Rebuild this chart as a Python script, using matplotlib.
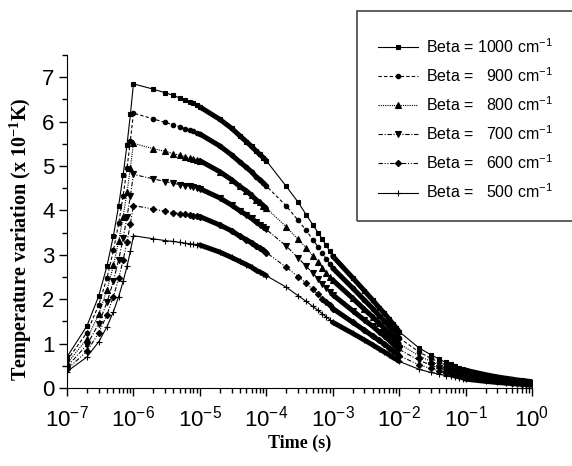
import numpy as np
import matplotlib
matplotlib.use("Agg")
import matplotlib.pyplot as plt
from matplotlib.patches import Rectangle
from matplotlib.ticker import MultipleLocator, LogLocator, NullFormatter

plt.rcParams["font.family"] = ["Liberation Sans", "DejaVu Sans"]
plt.rcParams["mathtext.fontset"] = "custom"
plt.rcParams["mathtext.rm"] = "Liberation Sans"

# time grid: 1..9 x 10^d for each decade, then 1 s
mantissas = [1, 2, 3, 4, 5, 6, 7, 8, 9]
decades = [-7, -6, -5, -4, -3, -2, -1]
time_s = [m * 10.0 ** d for d in decades for m in mantissas] + [1.0]
x_ticks = [1e-7, 1e-6, 1e-5, 1e-4, 1e-3, 1e-2, 1e-1, 1e0]

labels = ["Beta = 1000 cm$^{\\mathregular{-1}}$",
          "Beta =   900 cm$^{\\mathregular{-1}}$",
          "Beta =   800 cm$^{\\mathregular{-1}}$",
          "Beta =   700 cm$^{\\mathregular{-1}}$",
          "Beta =   600 cm$^{\\mathregular{-1}}$",
          "Beta =   500 cm$^{\\mathregular{-1}}$"]

# temperature variation (x 10^-1 K)
beta_1000 = [0.70, 1.40, 2.07, 2.75, 3.43, 4.11, 4.80, 5.48, 6.16,
             6.85, 6.73, 6.65, 6.59, 6.53, 6.49, 6.45, 6.41, 6.37,
             6.33, 6.05, 5.85, 5.68, 5.55, 5.44, 5.34, 5.26, 5.19,
             5.12, 4.54, 4.19, 3.90, 3.68, 3.50, 3.35, 3.21, 3.08,
             2.97, 2.48, 2.19, 1.98, 1.81, 1.68, 1.56, 1.45, 1.36,
             1.27, 0.90, 0.75, 0.65, 0.58, 0.53, 0.49, 0.46, 0.43,
             0.40, 0.30, 0.25, 0.22, 0.20, 0.18, 0.17, 0.16, 0.15,
             0.14]
beta_900 = [0.62, 1.25, 1.87, 2.48, 3.10, 3.71, 4.33, 4.95, 5.57,
            6.19, 6.06, 5.98, 5.93, 5.88, 5.84, 5.81, 5.78, 5.75,
            5.72, 5.45, 5.25, 5.09, 4.97, 4.87, 4.76, 4.69, 4.62,
            4.55, 4.10, 3.78, 3.55, 3.34, 3.18, 3.03, 2.91, 2.80,
            2.70, 2.25, 1.98, 1.79, 1.63, 1.51, 1.40, 1.30, 1.21,
            1.13, 0.81, 0.67, 0.58, 0.52, 0.48, 0.44, 0.41, 0.38,
            0.36, 0.27, 0.23, 0.20, 0.18, 0.165, 0.155, 0.145, 0.135,
            0.13]
beta_800 = [0.55, 1.11, 1.66, 2.21, 2.76, 3.31, 3.86, 4.41, 4.96,
            5.51, 5.39, 5.33, 5.28, 5.24, 5.21, 5.18, 5.16, 5.14,
            5.12, 4.87, 4.69, 4.54, 4.44, 4.34, 4.24, 4.18, 4.11,
            4.05, 3.63, 3.35, 3.15, 2.98, 2.84, 2.71, 2.60, 2.51,
            2.43, 2.02, 1.77, 1.60, 1.46, 1.34, 1.24, 1.15, 1.08,
            1.00, 0.72, 0.60, 0.52, 0.46, 0.42, 0.39, 0.36, 0.34,
            0.32, 0.24, 0.20, 0.18, 0.16, 0.15, 0.14, 0.13, 0.12,
            0.115]
beta_700 = [0.48, 0.97, 1.45, 1.93, 2.41, 2.89, 3.37, 3.85, 4.33,
            4.81, 4.71, 4.65, 4.61, 4.58, 4.56, 4.54, 4.52, 4.50,
            4.49, 4.28, 4.12, 3.99, 3.90, 3.82, 3.74, 3.68, 3.63,
            3.57, 3.20, 2.93, 2.74, 2.59, 2.46, 2.35, 2.25, 2.17,
            2.10, 1.74, 1.53, 1.39, 1.26, 1.17, 1.08, 1.00, 0.93,
            0.87, 0.62, 0.52, 0.45, 0.40, 0.37, 0.34, 0.32, 0.30,
            0.28, 0.21, 0.18, 0.155, 0.14, 0.13, 0.12, 0.11, 0.105,
            0.10]
beta_600 = [0.42, 0.83, 1.24, 1.65, 2.06, 2.47, 2.88, 3.29, 3.70,
            4.11, 4.03, 3.98, 3.95, 3.93, 3.91, 3.89, 3.88, 3.87,
            3.86, 3.67, 3.54, 3.42, 3.34, 3.27, 3.20, 3.15, 3.10,
            3.05, 2.72, 2.51, 2.36, 2.22, 2.11, 2.01, 1.93, 1.86,
            1.79, 1.48, 1.30, 1.17, 1.07, 0.99, 0.91, 0.84, 0.79,
            0.73, 0.52, 0.44, 0.38, 0.34, 0.31, 0.29, 0.27, 0.25,
            0.24, 0.18, 0.15, 0.13, 0.12, 0.11, 0.10, 0.095, 0.09,
            0.085]
beta_500 = [0.37, 0.70, 1.04, 1.38, 1.72, 2.06, 2.40, 2.74, 3.08,
            3.43, 3.36, 3.32, 3.30, 3.28, 3.26, 3.25, 3.24, 3.23,
            3.22, 3.06, 2.94, 2.85, 2.78, 2.72, 2.65, 2.61, 2.57,
            2.53, 2.27, 2.08, 1.95, 1.84, 1.75, 1.67, 1.60, 1.54,
            1.48, 1.23, 1.08, 0.97, 0.88, 0.81, 0.75, 0.69, 0.65,
            0.60, 0.42, 0.35, 0.31, 0.28, 0.26, 0.24, 0.22, 0.21,
            0.20, 0.15, 0.125, 0.11, 0.10, 0.09, 0.085, 0.08, 0.075,
            0.07]

series = [beta_1000, beta_900, beta_800, beta_700, beta_600, beta_500]
styles = ["-", (0, (3, 2)), (0, (1, 1)), (0, (4, 1.5, 1, 1.5)),
          (0, (4, 1.5, 1, 1.5, 1, 1.5)), "-"]
markers = ["s", "o", "^", "v", "D", "+"]
msizes = [3.2, 3.2, 3.8, 3.8, 3.2, 4.5]

W, H = 572, 466
fig = plt.figure(figsize=(W / 100, H / 100), dpi=100)
ax = fig.add_axes([67 / W, 1 - 388 / H, (532 - 67) / W, (388 - 55) / H])

t = np.array(time_s)
handles = []
for y, ls, mk, ms in zip(series, styles, markers, msizes):
    y = np.array(y)
    h, = ax.plot(t, y, color="black", lw=0.8, ls=ls, marker=mk, ms=ms,
                 mew=0.8, mec="black", mfc="black")
    handles.append(h)
    # dense sampling in these decades shows up as a solid band
    for a, b in [(18, 28), (36, 46), (54, 64)]:
        ax.plot(t[a:b], y[a:b], color="black", lw=3.6,
                solid_capstyle="round")

ax.set_xscale("log")
ax.set_xticks(x_ticks)
ax.xaxis.set_minor_locator(LogLocator(base=10, subs=np.arange(2, 10), numticks=20))
ax.xaxis.set_minor_formatter(NullFormatter())
ax.set_xlim(1e-7, 1)
ax.set_ylim(0, 7.5)
ax.yaxis.set_major_locator(MultipleLocator(1))
ax.yaxis.set_minor_locator(MultipleLocator(0.5))

for s in ["top", "right"]:
    ax.spines[s].set_visible(False)
ax.tick_params(which="major", direction="out", length=6, width=1, labelsize=16, pad=3)
ax.tick_params(axis="x", which="major", pad=7)
ax.tick_params(which="minor", direction="out", length=3.5, width=1)

ax.set_xlabel("Time (s)", family="Liberation Serif", weight="bold", fontsize=13, labelpad=2)
ax.set_ylabel("Temperature variation (x 10$^{\\mathregular{-1}}$K)", family="Liberation Serif",
              weight="bold", fontsize=14.5)
ax.yaxis.set_label_coords(-0.071, 0.447)

fig.patches.append(Rectangle((357 / W, 1 - 221 / H), 230 / W, 210 / H, transform=fig.transFigure,
                             fill=False, edgecolor="#444444", lw=1.2))
fig.legend(handles, labels, loc="upper left", bbox_to_anchor=(378 / W, 1 - 37 / H),
           frameon=False, fontsize=11.5, handlelength=2.5, handletextpad=0.5,
           labelspacing=0.65, borderpad=0, borderaxespad=0)

fig.savefig("out.png", dpi=100)
